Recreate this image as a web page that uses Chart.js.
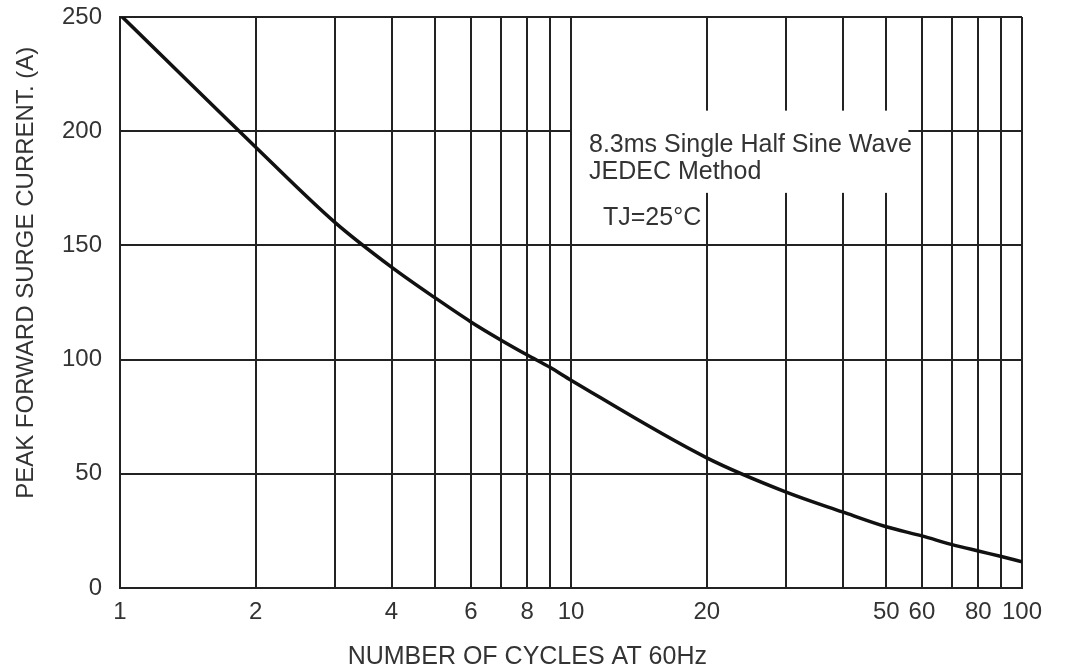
<!DOCTYPE html>
<html>
<head>
<meta charset="utf-8">
<script src="https://cdn.jsdelivr.net/npm/chart.js@4"></script>
<style>
  body { margin: 0; background: #fff; }
  canvas { display: block; }
</style>
</head>
<body>
<canvas id="surge" width="1082" height="669"></canvas>
<script>
// number of cycles at 60Hz (log axis) and peak forward surge current in A
const cycles = [1, 2, 3, 4, 5, 6, 7, 8, 9, 10, 20, 30, 40, 50, 60, 70, 80, 90, 100];
const current = [251, 193, 160, 140.5, 127, 116.5, 108.5, 102, 96.5, 91, 57, 42, 33.3, 26.8, 22.8, 19, 16.2, 13.8, 11.5];

const xTickLabels = [1, 2, 4, 6, 8, 10, 20, 50, 60, 80, 100];
const yTicks = [0, 50, 100, 150, 200, 250];

const xTitle = 'NUMBER OF CYCLES AT 60Hz';
const yTitle = 'PEAK FORWARD SURGE CURRENT. (A)';
const noteLines = ['8.3ms Single Half Sine Wave', 'JEDEC Method', 'TJ=25°C'];

const ctx = document.getElementById('surge');

const fontFamily = '"Liberation Sans", Arial, Helvetica, sans-serif';

// white box behind the note, the note text, and the axis titles
const pluginNote = {
    id: 'note',
    beforeDatasetsDraw: (chart) => {
        const c = chart.ctx;
        const x = chart.scales.x;
        const y = chart.scales.y;
        const left = x.getPixelForValue(10) + 1;
        const right = x.getPixelForValue(56);
        const top = y.getPixelForValue(209);
        const bottom = y.getPixelForValue(173);
        c.save();
        c.fillStyle = '#ffffff';
        c.fillRect(left, top, right - left, bottom - top);

        c.fillStyle = '#333';
        c.font = '25px ' + fontFamily;
        c.textBaseline = 'middle';
        c.textAlign = 'left';
        const tx = x.getPixelForValue(10) + 18;
        c.fillText(noteLines[0], tx, y.getPixelForValue(194));
        c.fillText(noteLines[1], tx, y.getPixelForValue(182));
        c.fillText(noteLines[2], tx + 14, y.getPixelForValue(162));

        // axis titles (sit a bit off-centre in the original)
        c.textAlign = 'center';
        c.font = '25px ' + fontFamily;
        c.fillText(xTitle, x.getPixelForValue(8), 657);
        c.translate(26, y.getPixelForValue(138));
        c.rotate(-Math.PI / 2);
        c.font = '24px ' + fontFamily;
        c.fillText(yTitle, 0, 0);
        c.restore();
    }
};

const chart = new Chart(ctx, {
    type: 'line',
    data: {
        datasets: [{
            data: cycles.map((c, i) => ({ x: c, y: current[i] })),
            borderColor: '#111',
            borderWidth: 3.5,
            pointRadius: 0,
            cubicInterpolationMode: 'monotone',
            fill: false
        }]
    },
    options: {
        responsive: false,
        animation: false,
        layout: {
            padding: { left: 0, right: 60, top: 17, bottom: 0 }
        },
        plugins: {
            legend: { display: false },
            tooltip: { enabled: false }
        },
        scales: {
            x: {
                type: 'logarithmic',
                min: 1,
                max: 100,
                afterFit: (scale) => { scale.height = 81; },
                afterBuildTicks: (scale) => {
                    scale.ticks = cycles.map(v => ({ value: v }));
                },
                grid: {
                    color: '#222',
                    lineWidth: 2,
                    drawTicks: false
                },
                border: { color: '#222', width: 2 },
                ticks: {
                    autoSkip: false,
                    maxRotation: 0,
                    padding: 10,
                    color: '#333',
                    font: { family: fontFamily, size: 24 },
                    callback: (value) => {
                        const hit = xTickLabels.find(v => Math.abs(v - value) < 1e-6 * v);
                        return hit === undefined ? '' : String(hit);
                    }
                }
            },
            y: {
                min: 0,
                max: 250,
                afterFit: (scale) => {
                    scale.width = 120;
                    scale.paddingTop = 0;
                    scale.paddingBottom = 0;
                },
                afterBuildTicks: (scale) => {
                    scale.ticks = yTicks.map(v => ({ value: v }));
                },
                grid: {
                    color: '#222',
                    lineWidth: 2,
                    drawTicks: false
                },
                border: { color: '#222', width: 2 },
                ticks: {
                    padding: 18,
                    color: '#333',
                    font: { family: fontFamily, size: 24 }
                }
            }
        }
    },
    plugins: [pluginNote]
});
</script>
</body>
</html>
